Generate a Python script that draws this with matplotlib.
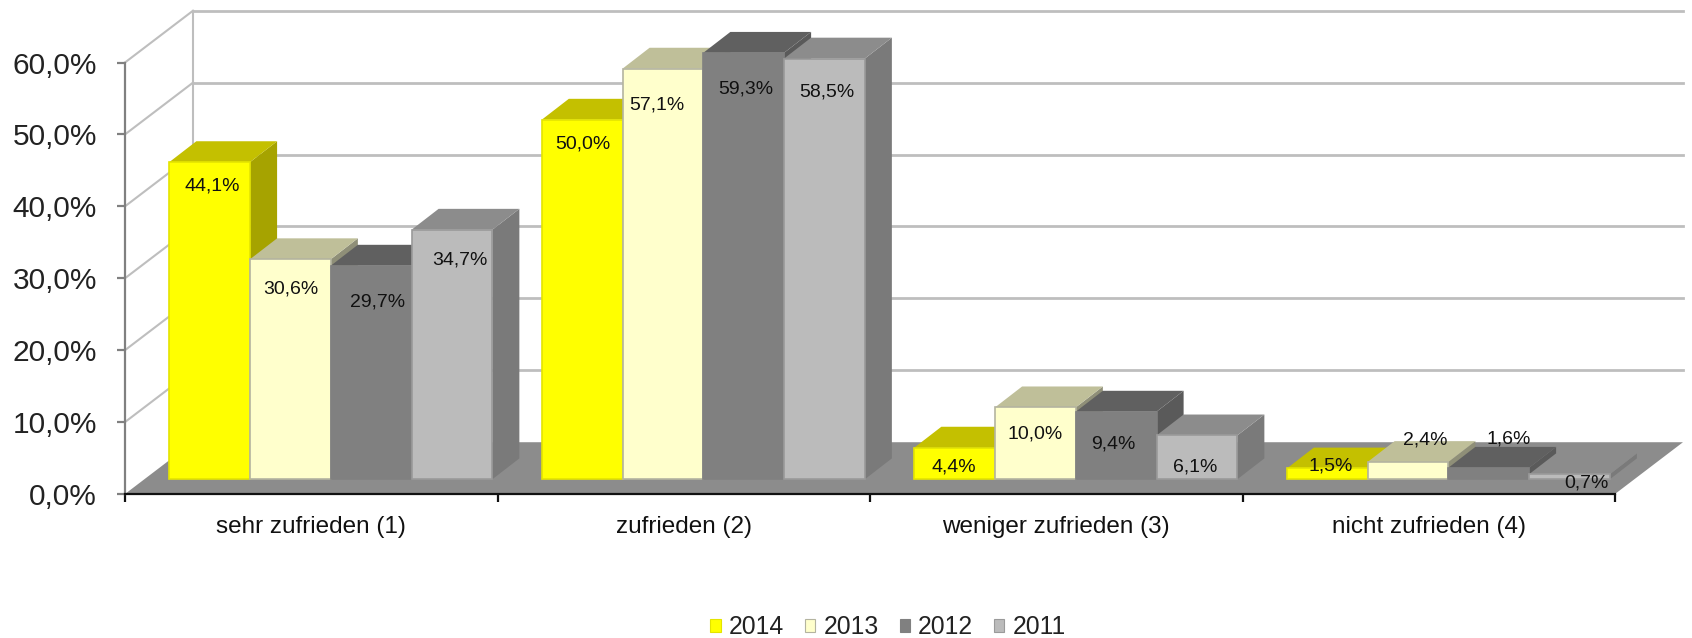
import matplotlib
matplotlib.use("Agg")
import matplotlib.pyplot as plt
from matplotlib.patches import Rectangle

plt.rcParams["font.family"] = ["Liberation Sans", "DejaVu Sans"]

categories = ["sehr zufrieden (1)", "zufrieden (2)", "weniger zufrieden (3)", "nicht zufrieden (4)"]
years = ["2014", "2013", "2012", "2011"]
values_2014 = [44.1, 50.0, 4.4, 1.5]
values_2013 = [30.6, 57.1, 10.0, 2.4]
values_2012 = [29.7, 59.3, 9.4, 1.6]
values_2011 = [34.7, 58.5, 6.1, 0.7]
y_ticks = [0, 10, 20, 30, 40, 50, 60]

# front, top, side, edge
palette = [("#FFFF00", "#C4C000", "#A6A300", "#E4E400"),
           ("#FFFFCC", "#BFBF99", "#8F8F78", "#B4B4A0"),
           ("#808080", "#606060", "#5A5A5A", "#808080"),
           ("#BBBBBB", "#8C8C8C", "#7A7A7A", "#9A9A9A")]
FLOOR = "#8C8C8C"
WALL = "#BEBEBE"

# oblique projection, in data units
WALL_DX, WALL_DY = 0.1825, 7.2
BAR_DX, BAR_DY = 0.0725, 2.9
BAR_W = 0.2168
BAR_X0 = 0.119
BAR_Y0 = 2.05

# label offsets from the top of the bar's front centre, in pixels
label_offsets = [
    [(3, -24), (0, -30), (6, -36), (8, -30)],
    [(1, -24), (-6, -36), (2, -36), (2, -33)],
    [(-1, -19), (0, -27), (-3, -32), (-2, -32)],
    [(3, 2), (17, 22), (20, 29), (17, -9)],
]

W, H = 1692, 638
fig = plt.figure(figsize=(W / 100, H / 100), dpi=100)
ax = fig.add_axes([125 / W, 1 - 494 / H, (1615 - 125) / W, (494 - 62.5) / H])
ax.patch.set_visible(False)
ax.set_xlim(0, 4)
ax.set_ylim(0, 60)

# back wall, side wall lines and floor
ax.plot([WALL_DX, WALL_DX], [WALL_DY, 60 + WALL_DY], color=WALL, lw=1.5, clip_on=False, zorder=1)
for v in y_ticks[1:]:
    ax.plot([WALL_DX, 4 + WALL_DX], [v + WALL_DY] * 2, color=WALL, lw=2, clip_on=False, zorder=1)
    ax.plot([0, WALL_DX], [v, v + WALL_DY], color=WALL, lw=1.5, clip_on=False, zorder=1)
ax.fill([0, 4, 4 + WALL_DX, WALL_DX], [0, 0, WALL_DY, WALL_DY], color=FLOOR, lw=0, clip_on=False, zorder=2)

series = [values_2014, values_2013, values_2012, values_2011]
z = 3
for c in range(len(categories)):
    for s, vals in enumerate(series):
        front, top, side, edge = palette[s]
        v = vals[c]
        x0 = c + BAR_X0 + s * BAR_W
        x1 = x0 + BAR_W
        y1 = BAR_Y0 + v
        ax.fill([x1, x1 + BAR_DX, x1 + BAR_DX, x1],
                [BAR_Y0, BAR_Y0 + BAR_DY, y1 + BAR_DY, y1],
                color=side, lw=0, clip_on=False, zorder=z)
        ax.fill([x0, x1, x1 + BAR_DX, x0 + BAR_DX],
                [y1, y1, y1 + BAR_DY, y1 + BAR_DY],
                color=top, lw=0, clip_on=False, zorder=z)
        ax.bar(x0, v, width=BAR_W, bottom=BAR_Y0, align="edge", color=front,
               edgecolor=edge, linewidth=1.2, clip_on=False, zorder=z)
        z += 1

for c in range(len(categories)):
    for s, vals in enumerate(series):
        ax.annotate(f"{vals[c]:.1f}%".replace(".", ","),
                    xy=(c + BAR_X0 + (s + 0.5) * BAR_W, BAR_Y0 + vals[c]),
                    xytext=label_offsets[c][s], textcoords="offset pixels",
                    ha="center", va="center", fontsize=14, color="#111111",
                    annotation_clip=False, zorder=100)

ax.set_yticks(y_ticks)
ax.set_yticklabels([f"{v},0%" for v in y_ticks], fontsize=21.5, color="#222222")
ax.tick_params(axis="y", length=6, width=1.6, color="#808080", pad=14)

ax.set_xticks(range(5))
ax.set_xticklabels([])
ax.set_xticks([i + 0.5 for i in range(4)], minor=True)
ax.set_xticklabels(categories, minor=True, fontsize=17.5, color="#111111")
ax.tick_params(axis="x", which="major", length=6, width=1.6, color="#111111")
ax.tick_params(axis="x", which="minor", length=0, pad=15.5)

for name in ["top", "right"]:
    ax.spines[name].set_visible(False)
ax.spines["left"].set_color("#808080")
ax.spines["left"].set_linewidth(1.6)
ax.spines["bottom"].set_color("#111111")
ax.spines["bottom"].set_linewidth(1.6)
for sp in ax.spines.values():
    sp.set_zorder(60)

handles = [Rectangle((0, 0), 1, 1, facecolor=p[0], edgecolor=p[3], lw=0.8) for p in palette]
fig.legend(handles, years, loc="center", bbox_to_anchor=(888 / W, 1 - 627 / H), frameon=False,
           ncol=4, fontsize=17.8, handlelength=0.42, handleheight=0.42, handletextpad=0.32,
           columnspacing=0.85, borderpad=0, labelcolor="#222222")

fig.savefig("out.png", dpi=100)
